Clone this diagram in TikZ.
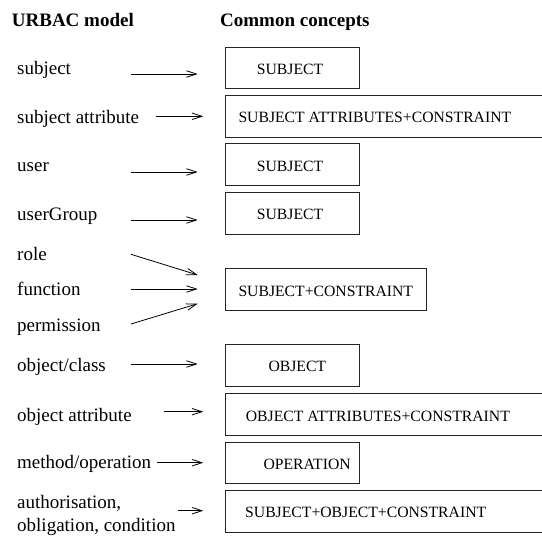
\documentclass[tikz,border=0pt]{standalone}
\usepackage{fontspec}
\setmainfont{Liberation Serif}
\usetikzlibrary{arrows.meta}
\tikzset{
  lbl/.style={anchor=base west, inner sep=0pt, font=\fontsize{19}{23.5}\selectfont, align=left},
  hdr/.style={anchor=base west, inner sep=0pt, font=\fontsize{19}{23}\selectfont\bfseries},
  boxtxt/.style={anchor=base west, inner sep=0pt, font=\fontsize{15.7}{18}\selectfont},
  cbox/.style={draw, line width=0.9pt, anchor=north west, minimum height=41.7pt, inner sep=0pt, draw=black!85},
  narrow/.style={cbox, minimum width=134pt},
  wide/.style={cbox, minimum width=340pt},
  conn/.style={line width=0.8pt, -{Straight Barb[length=10pt,width=6.5pt,line width=0.8pt]}}
}
\begin{document}
\begin{tikzpicture}[x=1pt,y=-1pt]
\useasboundingbox (0,0) rectangle (542,536);
\clip (0,0) rectangle (542,536);
% headers
\node[hdr] (h1) at (11.7,26) {URBAC model};
\node[hdr] (h2) at (220,26) {Common concepts};
% left labels
\node[lbl] (l1) at (17,74) {subject};
\node[lbl] (l2) at (17,123) {subject attribute};
\node[lbl] (l3) at (17,171.7) {user};
\node[lbl] (l4) at (17,220.5) {userGroup};
\node[lbl] (l5) at (17,260.7) {role};
\node[lbl] (l6) at (17,295.7) {function};
\node[lbl] (l7) at (17,331) {permission};
\node[lbl] (l8) at (17,371.7) {object/class};
\node[lbl] (l9) at (17,421) {object attribute};
\node[lbl] (l10) at (17,468.3) {method/operation};
\node[lbl] (l11a) at (17,508.8) {authorisation,};
\node[lbl] (l11b) at (17,531.7) {obligation, condition};
% boxes
\node[narrow] (b1) at (224.7,46.7) {};
\node[wide]   (b2) at (224.7,95) {};
\node[narrow] (b3) at (224.7,143.3) {};
\node[narrow] (b4) at (224.7,192) {};
\node[cbox, minimum width=201pt] (b5) at (224.7,268.3) {};
\node[narrow] (b6) at (224.7,344) {};
\node[wide]   (b7) at (224.7,393.3) {};
\node[narrow] (b8) at (224.7,441.7) {};
\node[wide]   (b9) at (224.7,490) {};
% box texts
\node[boxtxt] (t1) at (256.7,74) {SUBJECT};
\node[boxtxt] (t2) at (238.3,122.7) {SUBJECT ATTRIBUTES+CONSTRAINT};
\node[boxtxt] (t3) at (256.7,171) {SUBJECT};
\node[boxtxt] (t4) at (256.7,219.7) {SUBJECT};
\node[boxtxt] (t5) at (238.3,296) {SUBJECT+CONSTRAINT};
\node[boxtxt] (t6) at (268.3,371.7) {OBJECT};
\node[boxtxt] (t7) at (245.7,421) {OBJECT ATTRIBUTES+CONSTRAINT};
\node[boxtxt] (t8) at (263.3,469.3) {OPERATION};
\node[boxtxt] (t9) at (245,517.7) {SUBJECT+OBJECT+CONSTRAINT};
% connector ends
\coordinate (s1) at (131,74);     \coordinate (e1) at (197.7,74);
\coordinate (s2) at (155.7,116.3);\coordinate (e2) at (203.3,116.3);
\coordinate (s3) at (131,172);    \coordinate (e3) at (197.7,172);
\coordinate (s4) at (131,220);    \coordinate (e4) at (197.7,220);
\coordinate (s5) at (131,254.3);  \coordinate (e5) at (197.7,275);
\coordinate (s6) at (131,289);    \coordinate (e6) at (197.7,289);
\coordinate (s7) at (131,324);    \coordinate (e7) at (197.7,303.7);
\coordinate (s8) at (130.7,364);  \coordinate (e8) at (197.7,364);
\coordinate (s9) at (164,411.7);  \coordinate (e9) at (203.3,411.7);
\coordinate (s10) at (156.7,462.7);\coordinate (e10) at (203.3,462.7);
\coordinate (s11) at (178.3,510.7);\coordinate (e11) at (203.3,510.7);
\foreach \i in {1,...,11} \draw[conn] (s\i) -- (e\i);
\end{tikzpicture}
\end{document}
